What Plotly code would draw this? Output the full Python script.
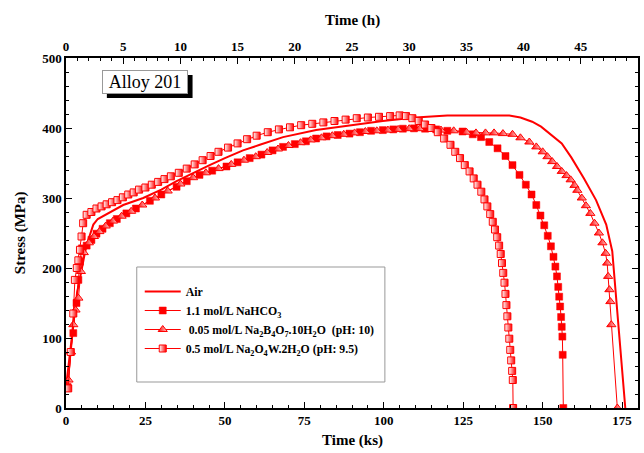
import plotly.graph_objects as go

# ---------------- data (time in ks, stress in MPa) ----------------
air_x = [0, 1, 2.3, 3.5, 4.9, 6, 7, 8.6, 10, 13.8, 18, 24.3, 30, 34.8, 40, 45.2, 50, 55.7, 61,
         68.3, 78.7, 89.2, 99.7, 110, 115, 120, 130, 139.5, 143, 146.7, 149.5, 152, 156, 159, 163,
         166.8, 170, 171.9, 173, 174, 175, 176]
air_y = [30, 70, 121, 165, 197, 223, 240, 262, 270, 280, 290, 300, 312, 324, 336, 347, 357, 368,
         376, 387, 397, 404, 410, 415, 417, 418, 418, 418, 415, 409, 402, 393, 378, 358, 328,
         297, 262, 224, 164, 107, 50, 0]

nahco3_x = [0.5, 2.3, 3.3, 3.9, 4.4, 5.0, 6.5, 8.0, 9.6, 11.5, 13.8, 16, 19, 22, 26.4, 30, 34.8,
            38, 42, 46, 50.5, 54, 57.8, 61.5, 65, 68.3, 72, 75.5, 78.7, 82, 85.5, 89.2, 92.5, 96,
            99.7, 103, 106, 109.5, 113, 116.5, 120, 124.8, 128, 130.6, 133.2, 135.8, 138.3, 140.5,
            142.7, 144.7, 146.5, 148, 149.3, 150.5, 151.6, 152.6, 153.4, 154, 154.5, 154.9, 155.2,
            155.5, 155.8, 156, 156.2, 156.3, 156.5]
nahco3_y = [30, 107, 150, 183, 209, 228, 232, 240, 249, 256, 264, 270, 278, 285, 296, 305, 316,
            324, 333, 339, 345, 351, 357, 362, 368, 373, 377, 381, 385, 388, 390, 392, 394, 396,
            397, 398, 399, 399.5, 399, 398, 396, 395, 391, 387, 380, 371, 360, 347,
            333, 319, 305, 290, 275, 261, 246, 231, 216, 202, 188, 173, 159,
            145, 130, 116, 102, 76, 0]

borax_x = [0.8, 1.6, 2.3, 3.0, 3.9, 4.7, 5.6, 7.2, 8.8, 10.5, 12.5, 14.8, 17.5, 20.5, 24, 28,
           32, 36, 40, 44, 48, 52, 56, 59.7, 63.3, 66.7, 70, 73.8, 77, 80.4, 83.8, 87.4, 90.8,
           94.2, 97.8, 101.3, 104.5, 108, 111.3, 114.8, 118, 122, 126, 129, 132, 134.7, 137.5,
           140.5, 143, 145.8, 148, 150, 151.5, 153, 154.5, 156, 157.5, 158.8, 160, 160.9, 162.3,
           163.6, 165, 166.3, 167.7, 168.8, 169.8, 170.3, 170.6, 171, 171.3, 171.6, 173.5]
borax_y = [40, 80, 119, 140, 157, 195, 222, 236, 245, 252, 260, 267, 274, 281, 290, 300,
           310, 320, 329, 336, 342, 348, 354, 359, 365, 370, 375, 379, 383, 386, 389, 391, 393,
           395, 396, 397, 398, 399, 399, 398, 397, 396, 394, 393, 393, 393, 392,
           391, 386, 380, 373, 366, 359, 352, 345, 338, 332, 326, 318, 311, 300,
           289, 278, 264, 250, 236, 221, 207, 188, 169, 152, 119, 0]

tung_x = [0.7, 1.5, 2.3, 2.8, 3.4, 3.9, 4.4, 4.9, 5.4, 6.5, 8, 9.6, 11.2, 12.8, 14.5, 16.2, 17.9,
          19.6, 21.3, 23, 25, 27, 29, 31, 33, 35.5, 38, 40.5, 43, 45.5, 48, 51, 54, 57, 60, 63.5,
          67, 70.5, 74, 77.5, 81, 84.5, 88, 91.5, 95, 98.5, 102, 105, 107, 109, 111, 113, 115,
          117, 119, 121, 122.5, 124, 125.5, 127, 128.3, 129.5, 130.7, 131.7, 132.6, 133.5, 134.3,
          135, 135.7, 136.3, 136.8, 137.2, 137.6, 138, 138.3, 138.6, 138.9, 139.2, 139.5, 139.8,
          140.1, 140.4, 140.6, 140.7]
tung_y = [28, 80, 135, 183, 200, 211, 226, 245, 264, 276, 280, 285, 288, 291, 294, 297, 301,
          305, 308, 312, 315, 319, 323, 327, 331, 336, 342, 348, 354, 360, 366, 372, 378, 384, 389, 394,
          398, 401, 404, 406, 408, 410, 412, 414, 415, 416, 417, 418, 417, 414, 410, 405, 400,
          394, 385, 376, 366, 357, 347, 338, 328, 319, 309, 298, 288, 277, 266,
          255, 244, 232, 220, 207, 193, 179, 163, 147, 131, 115, 99, 83,
          68, 53, 40, 0]

bottom_ticks = [0, 25, 50, 75, 100, 125, 150, 175]
top_ticks = [0, 5, 10, 15, 20, 25, 30, 35, 40, 45, 50]
y_ticks = [0, 100, 200, 300, 400, 500]

# ---------------- figure ----------------
RED = "#ff0000"
FONT = "Liberation Serif"
L, R, T, B = 66, 640, 58, 408   # plot area in pixels
PW, PH = R - L, B - T


def px(xp):
    return (xp - L) / PW


def py(yp):
    return (B - yp) / PH


fig = go.Figure()

fig.add_trace(go.Scatter(
    x=air_x, y=air_y, mode="lines", name="Air",
    line=dict(color=RED, width=2)))

fig.add_trace(go.Scatter(
    x=nahco3_x, y=nahco3_y, mode="lines+markers", name="1.1 mol/L NaHCO<sub>3</sub>",
    line=dict(color=RED, width=1),
    marker=dict(symbol="square", size=7, color=RED, line=dict(color=RED, width=0.5))))

fig.add_trace(go.Scatter(
    x=borax_x, y=borax_y, mode="lines+markers",
    name=" 0.05 mol/L Na<sub>2</sub>B<sub>4</sub>O<sub>7</sub>.10H<sub>2</sub>O  (pH: 10)",
    line=dict(color=RED, width=1),
    marker=dict(symbol="triangle-up", size=8, color=RED,
                gradient=dict(type="horizontal", color="#ffd0d0"),
                line=dict(color=RED, width=1))))

fig.add_trace(go.Scatter(
    x=tung_x, y=tung_y, mode="lines+markers",
    name="0.5 mol/L Na<sub>2</sub>O<sub>4</sub>W.2H<sub>2</sub>O (pH: 9.5)",
    line=dict(color=RED, width=1),
    marker=dict(symbol="square", size=7, color="#ffffff",
                gradient=dict(type="horizontal", color=RED),
                line=dict(color=RED, width=1))))

# dummy trace to create the top axis
fig.add_trace(go.Scatter(x=[0, 50], y=[None, None], xaxis="x2", yaxis="y",
                         showlegend=False, hoverinfo="skip"))

axis_font = dict(family=FONT, size=13, color="black", weight="bold")
title_font = dict(family=FONT, size=15, color="black", weight="bold")

fig.update_layout(
    width=644, height=453,
    margin=dict(l=L, r=644 - R, t=T, b=453 - B),
    paper_bgcolor="white", plot_bgcolor="white",
    font=dict(family=FONT, color="black"),
    xaxis=dict(
        range=[0, 180], tickvals=bottom_ticks, ticks="inside", ticklen=6, tickwidth=1.2,
        tickcolor="black", showline=True, linecolor="black", linewidth=1.5, mirror=False,
        showgrid=False, zeroline=False, tickfont=axis_font,
        minor=dict(dtick=5, ticks="inside", ticklen=3, tickcolor="black", showgrid=False)),
    xaxis2=dict(
        range=[0, 50], overlaying="x", side="top", anchor="y", tickvals=top_ticks,
        ticks="inside", ticklen=6, tickwidth=1.2, tickcolor="black",
        showline=True, linecolor="black", linewidth=1.5, showgrid=False, zeroline=False,
        tickfont=axis_font,
        minor=dict(dtick=1, ticks="inside", ticklen=3, tickcolor="black", showgrid=False)),
    yaxis=dict(
        range=[0, 500], tickvals=y_ticks, ticks="inside", ticklen=6, tickwidth=1.2,
        tickcolor="black", showline=True, linecolor="black", linewidth=1.5, mirror="ticks",
        showgrid=False, zeroline=False, tickfont=axis_font,
        minor=dict(dtick=20, ticks="inside", ticklen=3, tickcolor="black", showgrid=False)),
    legend=dict(
        x=px(140), y=py(277), xanchor="left", yanchor="top",
        bgcolor="rgba(0,0,0,0)", borderwidth=0,
        font=dict(family=FONT, size=11.8, color="black", weight="bold"),
        tracegroupgap=0, itemwidth=36),
    showlegend=True,
)

# axis titles
fig.add_annotation(xref="paper", yref="paper", x=px(353), y=py(440), text="Time (ks)",
                   showarrow=False, font=title_font, xanchor="center", yanchor="middle")
fig.add_annotation(xref="paper", yref="paper", x=px(353), y=py(20), text="Time (h)",
                   showarrow=False, font=title_font, xanchor="center", yanchor="middle")
fig.add_annotation(xref="paper", yref="paper", x=px(20), y=py(233), text="Stress (MPa)",
                   showarrow=False, font=title_font, textangle=-90,
                   xanchor="center", yanchor="middle")

# legend frame
fig.add_shape(type="rect", xref="paper", yref="paper",
              x0=px(137), x1=px(386), y0=py(382), y1=py(267),
              fillcolor="white", line=dict(color="#999999", width=1), layer="above")

# "Alloy 201" label box with drop shadow
fig.add_shape(type="rect", xref="paper", yref="paper",
              x0=px(107), x1=px(193), y0=py(98), y1=py(75),
              fillcolor="black", line=dict(width=0), layer="above")
fig.add_annotation(xref="paper", yref="paper",
                   x=px(102), y=py(70), xanchor="left", yanchor="top",
                   text="Alloy 201", showarrow=False,
                   font=dict(family=FONT, size=18, color="black"),
                   bgcolor="white", bordercolor="#999999", borderwidth=1, borderpad=1,
                   width=82, height=20)

fig.write_html("out.html")
